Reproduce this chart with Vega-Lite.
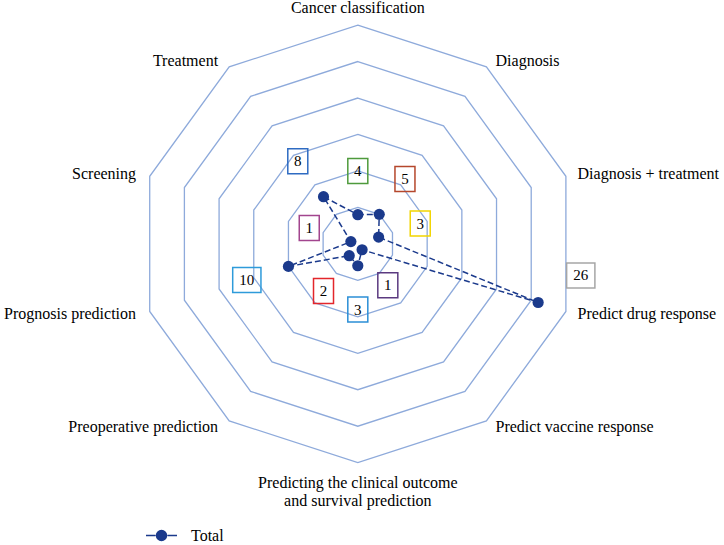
{
  "$schema": "https://vega.github.io/schema/vega-lite/v6.json",
  "width": 724,
  "height": 545,
  "autosize": {"type": "none"},
  "padding": 0,
  "background": "white",
  "config": {"view": {"stroke": null}, "font": "Liberation Serif"},
  "datasets": {
    "main": [
      {"idx": 0, "category": "Cancer classification", "value": 4},
      {"idx": 1, "category": "Diagnosis", "value": 5},
      {"idx": 2, "category": "Diagnosis + treatment", "value": 3},
      {"idx": 3, "category": "Predict drug response", "value": 26},
      {"idx": 4, "category": "Predict vaccine response", "value": 1},
      {"idx": 5, "category": "Predicting the clinical outcome\nand survival prediction", "value": 3},
      {"idx": 6, "category": "Preoperative prediction", "value": 2},
      {"idx": 7, "category": "Prognosis prediction", "value": 10},
      {"idx": 8, "category": "Screening", "value": 1},
      {"idx": 9, "category": "Treatment", "value": 8}
    ],
    "rings": [
      {"ring": 5, "idx": [0, 1, 2, 3, 4, 5, 6, 7, 8, 9]},
      {"ring": 10, "idx": [0, 1, 2, 3, 4, 5, 6, 7, 8, 9]},
      {"ring": 15, "idx": [0, 1, 2, 3, 4, 5, 6, 7, 8, 9]},
      {"ring": 20, "idx": [0, 1, 2, 3, 4, 5, 6, 7, 8, 9]},
      {"ring": 25, "idx": [0, 1, 2, 3, 4, 5, 6, 7, 8, 9]},
      {"ring": 30, "idx": [0, 1, 2, 3, 4, 5, 6, 7, 8, 9]}
    ]
  },
  "data": {"name": "main"},
  "transform": [
    {"calculate": "datum.idx * PI / 5", "as": "a"},
    {"calculate": "datum.value * sin(datum.a)", "as": "x"},
    {"calculate": "datum.value * cos(datum.a)", "as": "y"},
    {"calculate": "(datum.value + 6) * sin(datum.a)", "as": "lx"},
    {"calculate": "(datum.value + 6) * cos(datum.a)", "as": "ly"},
    {"calculate": "30.96 * sin(datum.a)", "as": "cx"},
    {"calculate": "30.96 * cos(datum.a)", "as": "cy"}
  ],
  "resolve": {"scale": {"x": "shared", "y": "shared"}},
  "layer": [
    {
      "data": {"name": "rings"},
      "transform": [
        {"flatten": ["idx"]},
        {"calculate": "datum.idx * PI / 5", "as": "a"},
        {"calculate": "datum.ring * sin(datum.a)", "as": "x"},
        {"calculate": "datum.ring * cos(datum.a)", "as": "y"}
      ],
      "mark": {"type": "line", "interpolate": "linear-closed", "color": "#8EAADB", "strokeWidth": 1.3},
      "encoding": {
        "x": {"field": "x", "type": "quantitative", "scale": {"domain": [-49.06, 50.21], "nice": false, "zero": false}, "axis": null},
        "y": {"field": "y", "type": "quantitative", "scale": {"domain": [-41.29, 33.44], "nice": false, "zero": false}, "axis": null},
        "detail": {"field": "ring"},
        "order": {"field": "idx", "type": "quantitative"}
      }
    },
    {
      "mark": {"type": "line", "interpolate": "linear-closed", "strokeDash": [6, 3], "strokeWidth": 1.5},
      "encoding": {
        "x": {"field": "x", "type": "quantitative"},
        "y": {"field": "y", "type": "quantitative"},
        "order": {"field": "idx", "type": "quantitative"},
        "color": {
          "datum": "Total",
          "scale": {"range": ["#1B3A8C"]},
          "legend": {
            "orient": "none", "legendX": 145, "legendY": 519, "title": null,
            "symbolType": "M-1,0H-0.38M0.38,0H1M-0.32,0A0.32,0.32 0 1,0 0.32,0A0.32,0.32 0 1,0 -0.32,0Z",
            "symbolSize": 961, "symbolStrokeWidth": 1.5,
            "labelFont": "Liberation Serif", "labelFontSize": 16, "labelColor": "black", "labelOffset": 13,
            "encode": {"symbols": {"update": {"fill": {"value": "#1B3A8C"}, "stroke": {"value": "#1B3A8C"}, "strokeDash": {"value": []}, "opacity": {"value": 1}}}}
          }
        }
      }
    },
    {
      "mark": {"type": "point", "filled": true, "size": 125, "color": "#1B3A8C", "opacity": 1},
      "encoding": {
        "x": {"field": "x", "type": "quantitative"},
        "y": {"field": "y", "type": "quantitative"}
      }
    },
    {
      "transform": [{"filter": "datum.value < 10"}],
      "mark": {"type": "point", "filled": false, "size": 625, "strokeWidth": 1.5, "opacity": 1, "shape": "M-0.8,-1H0.8V1H-0.8Z"},
      "encoding": {
        "x": {"field": "lx", "type": "quantitative"},
        "y": {"field": "ly", "type": "quantitative"},
        "stroke": {
          "field": "category", "type": "nominal", "legend": null,
          "scale": {
            "domain": ["Cancer classification", "Diagnosis", "Diagnosis + treatment", "Predict drug response", "Predict vaccine response", "Predicting the clinical outcome\nand survival prediction", "Preoperative prediction", "Prognosis prediction", "Screening", "Treatment"],
            "range": ["#4E9A3C", "#B5472C", "#F2D500", "#A6A6A6", "#5B3A80", "#2B8FD6", "#E3262B", "#2E9BDA", "#A2458E", "#2E6BC2"]
          }
        }
      }
    },
    {
      "transform": [{"filter": "datum.value == 10"}],
      "mark": {"type": "point", "filled": false, "size": 625, "strokeWidth": 1.5, "opacity": 1, "shape": "M-1.13,-1H1.13V1H-1.13Z"},
      "encoding": {
        "x": {"field": "lx", "type": "quantitative"},
        "y": {"field": "ly", "type": "quantitative"},
        "stroke": {"field": "category", "type": "nominal", "legend": null}
      }
    },
    {
      "transform": [{"filter": "datum.value == 26"}],
      "mark": {"type": "point", "filled": false, "size": 625, "strokeWidth": 1.5, "opacity": 1, "shape": "M-1.05,-4.24H1.21V-2.24H-1.05Z"},
      "encoding": {
        "x": {"field": "lx", "type": "quantitative"},
        "y": {"field": "ly", "type": "quantitative"},
        "stroke": {"field": "category", "type": "nominal", "legend": null}
      }
    },
    {
      "transform": [{"filter": "datum.value != 26"}],
      "mark": {"type": "text", "font": "Liberation Serif", "fontSize": 15, "color": "black", "baseline": "middle", "align": "center"},
      "encoding": {
        "x": {"field": "lx", "type": "quantitative"},
        "y": {"field": "ly", "type": "quantitative"},
        "text": {"field": "value", "type": "quantitative"}
      }
    },
    {
      "transform": [{"filter": "datum.value == 26"}],
      "mark": {"type": "text", "font": "Liberation Serif", "fontSize": 15, "color": "black", "baseline": "middle", "align": "center", "dx": 1, "dy": -40.5},
      "encoding": {
        "x": {"field": "lx", "type": "quantitative"},
        "y": {"field": "ly", "type": "quantitative"},
        "text": {"field": "value", "type": "quantitative"}
      }
    },
    {
      "transform": [{"filter": "datum.idx == 0"}],
      "mark": {"type": "text", "font": "Liberation Serif", "fontSize": 16, "color": "black", "baseline": "alphabetic", "align": "center", "dy": -5},
      "encoding": {
        "x": {"field": "cx", "type": "quantitative"},
        "y": {"field": "cy", "type": "quantitative"},
        "text": {"field": "category"}
      }
    },
    {
      "transform": [{"filter": "datum.idx >= 1 && datum.idx <= 4"}],
      "mark": {"type": "text", "font": "Liberation Serif", "fontSize": 16, "color": "black", "baseline": "middle", "align": "left", "dx": 5},
      "encoding": {
        "x": {"field": "cx", "type": "quantitative"},
        "y": {"field": "cy", "type": "quantitative"},
        "text": {"field": "category"}
      }
    },
    {
      "transform": [{"filter": "datum.idx == 5"}],
      "mark": {"type": "text", "font": "Liberation Serif", "fontSize": 16, "color": "black", "baseline": "top", "align": "center", "lineBreak": "\n", "lineHeight": 18.5, "dy": 5},
      "encoding": {
        "x": {"field": "cx", "type": "quantitative"},
        "y": {"field": "cy", "type": "quantitative"},
        "text": {"field": "category"}
      }
    },
    {
      "transform": [{"filter": "datum.idx >= 6"}],
      "mark": {"type": "text", "font": "Liberation Serif", "fontSize": 16, "color": "black", "baseline": "middle", "align": "right", "dx": -7},
      "encoding": {
        "x": {"field": "cx", "type": "quantitative"},
        "y": {"field": "cy", "type": "quantitative"},
        "text": {"field": "category"}
      }
    }
  ]
}
